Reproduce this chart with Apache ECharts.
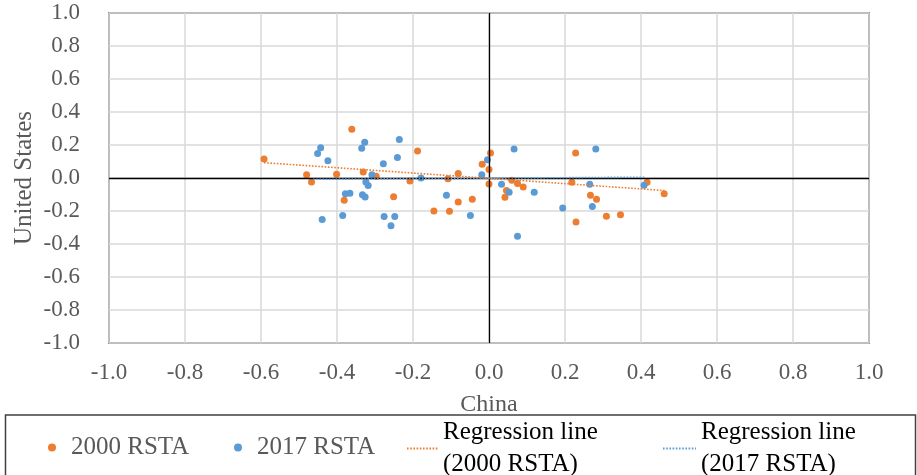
<!DOCTYPE html>
<html>
<head>
<meta charset="utf-8">
<script src="https://cdn.jsdelivr.net/npm/echarts@6/dist/echarts.min.js"></script>
<style>
  html, body { margin: 0; padding: 0; background: #fff; }
  #chart { width: 917px; height: 475px; }
</style>
</head>
<body>
<div id="chart"></div>
<script>
// RSTA pairs: [China, United States]
const rsta2000 = [
  [-0.592, 0.115], [-0.361, 0.295], [-0.480, 0.020], [-0.467, -0.024], [-0.401, 0.022],
  [-0.381, -0.135], [-0.331, 0.036], [-0.297, 0.010], [-0.251, -0.113], [-0.188, 0.164],
  [-0.208, -0.018], [-0.145, -0.200], [-0.104, -0.202], [-0.081, -0.145], [-0.044, -0.129],
  [-0.081, 0.027], [-0.108, -0.004], [-0.018, 0.083], [0.004, 0.152], [0.000, 0.051],
  [0.000, -0.036], [0.060, -0.014], [0.075, -0.034], [0.090, -0.054], [0.046, -0.075],
  [0.042, -0.117], [0.228, 0.152], [0.218, -0.026], [0.267, -0.105], [0.283, -0.129],
  [0.229, -0.267], [0.309, -0.232], [0.346, -0.222], [0.416, -0.026], [0.461, -0.095]
];
const rsta2017 = [
  [-0.443, 0.184], [-0.451, 0.148], [-0.424, 0.105], [-0.327, 0.216], [-0.335, 0.180],
  [-0.236, 0.233], [-0.241, 0.124], [-0.278, 0.087], [-0.308, 0.020], [-0.324, -0.024],
  [-0.318, -0.046], [-0.378, -0.095], [-0.366, -0.093], [-0.333, -0.101], [-0.326, -0.115],
  [-0.439, -0.252], [-0.385, -0.228], [-0.276, -0.234], [-0.248, -0.234], [-0.258, -0.289],
  [-0.179, 0.000], [-0.112, -0.105], [-0.049, -0.228], [-0.019, 0.020], [-0.004, 0.111],
  [0.066, 0.176], [0.281, 0.176], [0.033, -0.038], [0.053, -0.087], [0.119, -0.087],
  [0.194, -0.182], [0.265, -0.038], [0.272, -0.172], [0.075, -0.353], [0.408, -0.044]
];
// Trend line end points
const trend2000 = [[-0.592, 0.093], [0.461, -0.076]];
const trend2017 = [[-0.463, -0.008], [0.410, 0.005]];

const axisMin = -1.0;
const axisMax = 1.0;
const axisStep = 0.2;

const ORANGE = '#ED7D31';
const BLUE = '#5B9BD5';
const FONT = '"Liberation Serif", "Times New Roman", serif';
const GREY = '#595959';

const chart = echarts.init(document.getElementById('chart'), null, { renderer: 'canvas' });

const tickFmt = v => v.toFixed(1);

function scatterLegend(name, left) {
  return {
    data: [name], left: left, top: 435, padding: 0,
    itemWidth: 28, itemHeight: 8, selectedMode: false,
    textStyle: { fontFamily: FONT, fontSize: 25, color: GREY }
  };
}
function lineLegend(name, left, width) {
  return {
    data: [name], left: left, top: 417, padding: 0,
    itemWidth: width, itemHeight: 4, selectedMode: false,
    itemStyle: { opacity: 0 },
    textStyle: { fontFamily: FONT, fontSize: 25, color: '#000', lineHeight: 31.5 }
  };
}

chart.setOption({
  animation: false,
  backgroundColor: '#fff',
  grid: {
    left: 109, top: 13, width: 760, height: 330,
    show: true, borderColor: '#404040', borderWidth: 1.5, backgroundColor: 'transparent'
  },
  xAxis: {
    type: 'value', min: axisMin, max: axisMax, interval: axisStep,
    name: 'China', nameLocation: 'middle', nameGap: 50, nameMoveOverlap: false,
    nameTextStyle: { fontFamily: FONT, fontSize: 24, color: GREY },
    axisLine: { show: false }, axisTick: { show: false },
    axisLabel: { formatter: tickFmt, fontFamily: FONT, fontSize: 23, color: GREY, margin: 18 },
    splitLine: { show: true, lineStyle: { color: '#D9D9D9', width: 1.5 } }
  },
  yAxis: {
    type: 'value', min: axisMin, max: axisMax, interval: axisStep,
    name: 'United States', nameLocation: 'middle', nameGap: 72, nameRotate: 90,
    nameMoveOverlap: false,
    nameTextStyle: { fontFamily: FONT, fontSize: 25, color: GREY },
    axisLine: { show: false }, axisTick: { show: false },
    axisLabel: { formatter: tickFmt, fontFamily: FONT, fontSize: 23, color: GREY, margin: 29 },
    splitLine: { show: true, lineStyle: { color: '#D9D9D9', width: 1.5 } }
  },
  legend: [
    scatterLegend('2000 RSTA', 48),
    scatterLegend('2017 RSTA', 234),
    lineLegend('Regression line\n(2000 RSTA)', 406, 31),
    lineLegend('Regression line\n(2017 RSTA)', 662, 33)
  ],
  graphic: [{
    type: 'rect', silent: true, z: -1,
    shape: { x: 5.5, y: 415, width: 910, height: 120 },
    style: { fill: 'none', stroke: '#404040', lineWidth: 1.5 }
  }],
  series: [
    {
      // zero cross-hair axes
      name: 'axes', type: 'scatter', data: [], z: 1, silent: true,
      markLine: {
        silent: true, symbol: 'none', animation: false,
        label: { show: false },
        lineStyle: { color: '#000', type: 'solid', width: 1.3 },
        data: [{ xAxis: 0 }, { yAxis: 0 }]
      }
    },
    {
      name: '2000 RSTA', type: 'scatter', data: rsta2000, symbolSize: 7, z: 3,
      itemStyle: { color: ORANGE, opacity: 1 }
    },
    {
      name: '2017 RSTA', type: 'scatter', data: rsta2017, symbolSize: 7, z: 4,
      itemStyle: { color: BLUE, opacity: 1 }
    },
    {
      name: 'Regression line\n(2000 RSTA)', type: 'line', data: trend2000, symbol: 'none', z: 5,
      lineStyle: { color: ORANGE, width: 1.6, type: [1.6, 1.6] },
      itemStyle: { color: ORANGE }
    },
    {
      name: 'Regression line\n(2017 RSTA)', type: 'line', data: trend2017, symbol: 'none', z: 5,
      lineStyle: { color: BLUE, width: 1.6, type: [1.6, 1.6] },
      itemStyle: { color: BLUE }
    }
  ]
});
</script>
</body>
</html>
